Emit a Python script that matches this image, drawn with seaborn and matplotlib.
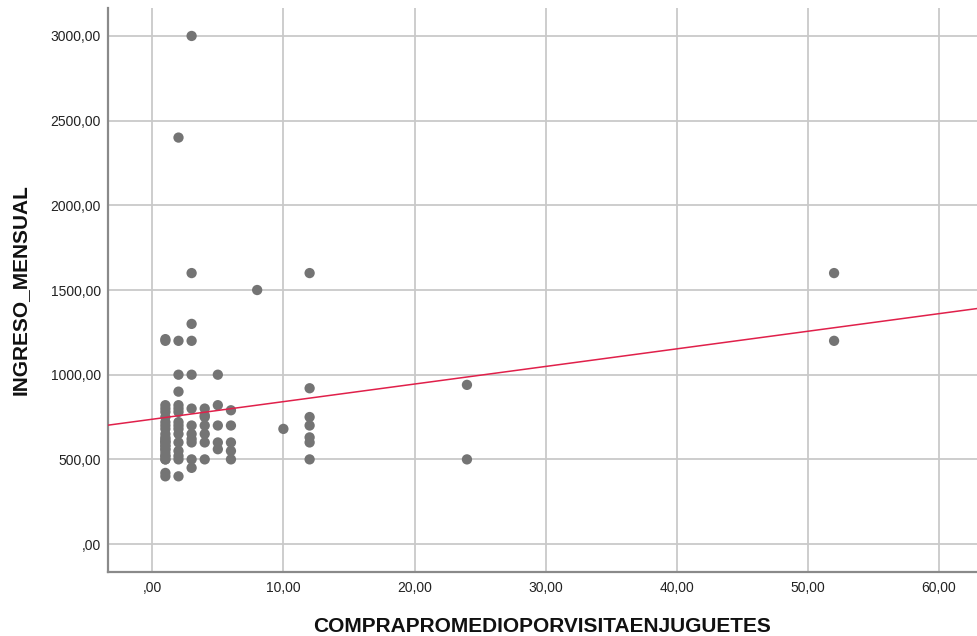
import numpy as np
import pandas as pd
import matplotlib
matplotlib.use("Agg")
import matplotlib.pyplot as plt
from matplotlib.ticker import FuncFormatter
import seaborn as sns

# Average purchase per visit in toys, grouped by value, with monthly income of each respondent
ingreso_x1 = [1210, 1200, 820, 800, 780, 750, 720, 700, 680, 650, 630, 620, 610, 600, 600,
              580, 580, 560, 560, 540, 520, 520, 500, 500, 420, 400]
ingreso_x2 = [2400, 1200, 1000, 900, 820, 800, 780, 720, 700, 680, 650, 600, 550, 520, 500, 400]
ingreso_x3 = [3000, 1600, 1300, 1200, 1000, 800, 700, 650, 620, 600, 500, 450]
ingreso_x4 = [800, 760, 750, 700, 650, 600, 500]
ingreso_x5 = [1000, 820, 700, 600, 560]
ingreso_x6 = [790, 700, 600, 550, 500]
compra_rest = [8, 10, 12, 12, 12, 12, 12, 12, 12, 24, 24, 52, 52]
ingreso_rest = [1500, 680, 1600, 920, 750, 700, 630, 600, 500, 940, 500, 1600, 1200]

x_ticks = [0, 10, 20, 30, 40, 50, 60]
y_ticks = [0, 500, 1000, 1500, 2000, 2500, 3000]

compra = ([1] * len(ingreso_x1) + [2] * len(ingreso_x2) + [3] * len(ingreso_x3)
          + [4] * len(ingreso_x4) + [5] * len(ingreso_x5) + [6] * len(ingreso_x6)
          + compra_rest)
ingreso = (ingreso_x1 + ingreso_x2 + ingreso_x3 + ingreso_x4 + ingreso_x5
           + ingreso_x6 + ingreso_rest)

df = pd.DataFrame({
    "COMPRAPROMEDIOPORVISITAENJUGUETES": compra,
    "INGRESO_MENSUAL": ingreso,
})

sns.set_theme(style="white")
plt.rcParams["font.family"] = ["Liberation Sans", "DejaVu Sans"]

fig = plt.figure(figsize=(9.77, 6.36), dpi=100)
ax = fig.add_axes([0.1105, 0.1006, 0.8895, 0.8868])

ax.set_xlim(-3.38, 62.9)
ax.set_ylim(-165, 3165)

sns.regplot(
    data=df, x="COMPRAPROMEDIOPORVISITAENJUGUETES", y="INGRESO_MENSUAL",
    ax=ax, ci=None, truncate=False,
    scatter_kws=dict(s=55, color="#747474", edgecolor="none", alpha=1, zorder=3),
    line_kws=dict(color="#e0204a", lw=1.1, zorder=4),
)

ax.set_xticks(x_ticks)
ax.set_yticks(y_ticks)

def comma_fmt(v, pos):
    s = f"{v:.2f}".replace(".", ",")
    return s[1:] if s.startswith("0,") else s

ax.xaxis.set_major_formatter(FuncFormatter(comma_fmt))
ax.yaxis.set_major_formatter(FuncFormatter(comma_fmt))
ax.tick_params(axis="both", length=0, labelsize=10, colors="#222222")
ax.tick_params(axis="x", pad=6.5)
ax.tick_params(axis="y", pad=5)

ax.grid(True, color="#c9c9c9", lw=1.3)
ax.set_axisbelow(True)
for side in ("top", "right"):
    ax.spines[side].set_visible(False)
for side in ("left", "bottom"):
    ax.spines[side].set_color("#8a8a8a")
    ax.spines[side].set_linewidth(1.6)

ax.set_xlabel("COMPRAPROMEDIOPORVISITAENJUGUETES", fontsize=15, fontweight="bold",
              color="#111111")
ax.set_ylabel("INGRESO_MENSUAL", fontsize=15, fontweight="bold", color="#111111")
ax.xaxis.set_label_coords(0.5, -0.080)
ax.yaxis.set_label_coords(-0.090, 0.5)
ax.set_xlim(-3.38, 62.9)
ax.set_ylim(-165, 3165)

fig.savefig("out.png", dpi=100)
